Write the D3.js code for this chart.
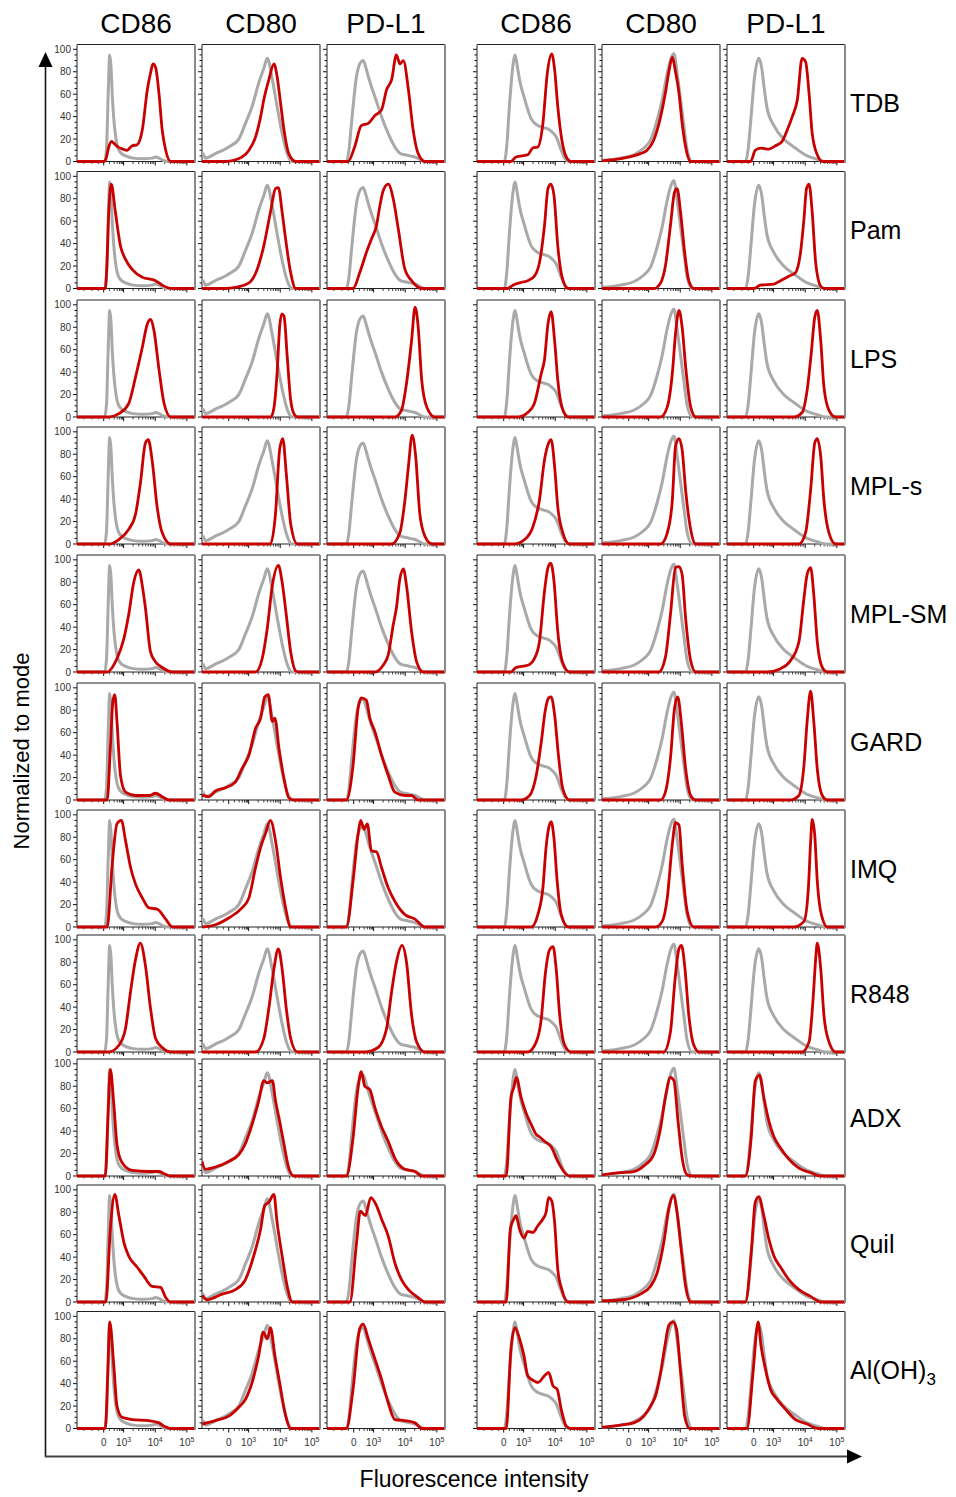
<!DOCTYPE html>
<html>
<head>
<meta charset="utf-8">
<script src="https://cdn.jsdelivr.net/npm/d3@7"></script>
<style>
body{margin:0;background:#fff;}
text{font-family:Arial,"Liberation Sans",sans-serif;}
</style>
</head>
<body>
<div id="chart"></div>
<script>
// column / row names
const markers = ["CD86", "CD80", "PD-L1", "CD86", "CD80", "PD-L1"];
const treatments = ["TDB", "Pam", "LPS", "MPL-s", "MPL-SM", "GARD", "IMQ", "R848", "ADX", "Quil", "Al(OH)3"];
const yTicks = [0, 20, 40, 60, 80, 100];
// x positions are in display decades (biex scale), 0 sits at ~2.37
const xTickPos = [2.37, 3, 4, 5];
const xTickBase = ["0", "10", "10", "10"];
const xTickExp = ["", "3", "4", "5"];
const xMinorPos = [1.74, 2.0, 2.2, 2.55, 2.7, 2.8, 2.87, 2.92, 2.95, 2.97,
  3.30, 3.48, 3.60, 3.70, 3.78, 3.85, 3.90, 3.95,
  4.30, 4.48, 4.60, 4.70, 4.78, 4.85, 4.90, 4.95];

// unstimulated controls (grey), one per column: [position, % of mode]
const ctrl = [
  [[2.40,0],[2.46,12],[2.51,58],[2.56,95],[2.60,85],[2.64,60],[2.69,38],[2.74,24],[2.80,14],[2.90,8],[3.06,5],[3.3,3],[3.6,2.5],[3.9,3],[4.01,4],[4.12,3],[4.25,1],[4.40,0]],
  [[1.526,4],[1.56,7],[1.63,3],[1.95,7],[2.37,13],[2.69,20],[2.90,34],[3.11,49],[3.32,70],[3.48,83],[3.59,92],[3.75,73],[3.90,49],[4.06,25],[4.22,7],[4.38,0]],
  [[2.14,0],[2.22,10],[2.30,34],[2.46,76],[2.58,88],[2.67,90],[2.75,84],[2.83,76],[2.94,66],[3.04,58],[3.25,40],[3.46,25],[3.67,13],[3.85,7],[3.99,6],[4.15,5],[4.31,4],[4.45,2],[4.62,0]],
  [[2.39,0],[2.47,15],[2.55,49],[2.66,85],[2.73,95],[2.80,85],[2.87,73],[3.03,56],[3.24,38],[3.45,32],[3.66,30],[3.78,29],[3.87,27],[4.03,22],[4.19,10],[4.30,3],[4.45,0]],
  [[1.526,1],[2.11,3],[2.53,6],[2.85,12],[3.06,19],[3.27,37],[3.43,55],[3.59,79],[3.71,92],[3.80,96],[3.90,79],[4.01,55],[4.12,31],[4.22,10],[4.38,0]],
  [[2.11,0],[2.20,12],[2.27,34],[2.40,76],[2.53,92],[2.62,84],[2.70,66],[2.79,48],[3.01,32],[3.32,20],[3.64,13],[4.06,5],[4.38,2],[4.65,0]]
];

// stimulated (red), one array per treatment, six columns each
const tdb = [
  [[2.38,0],[2.45,3],[2.53,13],[2.62,18],[2.70,16],[2.82,13],[2.98,11],[3.11,10],[3.27,14],[3.43,15],[3.59,28],[3.75,64],[3.86,80],[3.93,87],[4.01,84],[4.12,60],[4.22,28],[4.33,10],[4.49,0]],
  [[2.27,0],[2.79,4],[3.01,10],[3.22,22],[3.38,40],[3.48,55],[3.64,73],[3.80,87],[3.90,76],[4.01,52],[4.12,28],[4.27,7],[4.49,0]],
  [[2.19,0],[2.40,13],[2.61,32],[2.83,34],[3.04,41],[3.25,46],[3.41,64],[3.57,73],[3.72,95],[3.83,87],[3.94,90],[4.10,64],[4.25,28],[4.41,7],[4.62,0]],
  [[2.60,0],[2.76,4],[3.13,6],[3.29,12],[3.45,13],[3.61,34],[3.75,79],[3.89,96],[3.98,82],[4.08,49],[4.21,19],[4.35,4],[4.50,0]],
  [[1.526,0.5],[2.21,3],[2.74,7],[2.95,10],[3.16,19],[3.38,40],[3.53,61],[3.64,80],[3.75,93],[3.85,80],[3.96,61],[4.06,34],[4.17,13],[4.33,0]],
  [[2.27,0],[2.42,10],[2.58,12],[2.85,11],[3.06,14],[3.27,18],[3.43,28],[3.59,40],[3.75,55],[3.90,92],[4.01,89],[4.12,61],[4.22,25],[4.38,6],[4.55,0]]
];
const pam = [
  [[2.42,0],[2.47,20],[2.53,68],[2.61,93],[2.74,68],[2.90,38],[3.06,26],[3.27,17],[3.59,10],[4.01,7],[4.22,3],[4.54,0]],
  [[2.30,0],[2.58,1],[3.01,5],[3.27,17],[3.48,38],[3.69,68],[3.85,89],[3.94,90],[4.06,68],[4.17,44],[4.33,14],[4.49,0]],
  [[2.35,0],[2.56,14],[2.77,32],[2.93,44],[3.09,56],[3.20,74],[3.30,87],[3.46,93],[3.62,80],[3.78,53],[3.99,17],[4.20,7],[4.52,0]],
  [[2.50,0],[2.66,3],[2.87,5],[3.13,7],[3.34,11],[3.50,23],[3.66,56],[3.77,89],[3.86,93],[3.96,83],[4.08,38],[4.21,11],[4.40,0]],
  [[3.16,0],[3.38,5],[3.53,20],[3.69,56],[3.82,86],[3.90,89],[4.01,68],[4.14,32],[4.27,7],[4.43,0]],
  [[2.37,0],[2.58,3],[3.01,4],[3.22,7],[3.48,11],[3.69,14],[3.85,32],[3.96,62],[4.04,89],[4.12,93],[4.22,68],[4.33,23],[4.49,2],[4.60,0]]
];
const lps = [
  [[2.53,0],[2.85,3],[3.16,12],[3.38,36],[3.59,62],[3.75,83],[3.86,87],[3.96,77],[4.12,42],[4.28,12],[4.49,0]],
  [[3.70,0],[3.80,8],[3.90,39],[3.98,80],[4.05,92],[4.12,90],[4.22,54],[4.33,15],[4.45,2],[4.55,0]],
  [[3.67,0],[3.88,6],[4.04,30],[4.20,68],[4.31,98],[4.41,80],[4.52,33],[4.68,9],[4.94,0]],
  [[2.82,0],[3.13,4],[3.34,12],[3.56,39],[3.66,51],[3.77,83],[3.87,94],[3.98,68],[4.08,33],[4.21,9],[4.40,0]],
  [[3.38,0],[3.59,9],[3.75,39],[3.85,74],[3.96,95],[4.06,80],[4.17,45],[4.33,9],[4.49,0]],
  [[3.64,0],[3.90,4],[4.06,24],[4.19,57],[4.30,89],[4.38,95],[4.49,68],[4.59,27],[4.75,6],[4.96,0]]
];
const mplS = [
  [[2.53,0],[2.85,4],[3.16,13],[3.38,27],[3.53,54],[3.69,90],[3.78,93],[3.90,75],[4.06,33],[4.22,10],[4.49,0]],
  [[3.69,0],[3.85,27],[3.98,84],[4.08,94],[4.19,63],[4.33,18],[4.54,0]],
  [[3.57,0],[3.83,10],[3.99,39],[4.10,69],[4.22,97],[4.33,78],[4.46,27],[4.62,7],[4.85,0]],
  [[2.71,0],[3.03,4],[3.29,15],[3.50,39],[3.66,75],[3.79,90],[3.87,93],[3.98,69],[4.08,33],[4.24,10],[4.45,0]],
  [[3.38,0],[3.59,10],[3.75,39],[3.85,87],[3.96,94],[4.06,84],[4.17,48],[4.33,13],[4.49,0]],
  [[3.80,0],[4.01,10],[4.17,48],[4.30,90],[4.38,94],[4.49,78],[4.59,39],[4.75,10],[4.96,0]]
];
const mplSM = [
  [[2.48,0],[2.64,4],[2.79,12],[3.01,30],[3.16,51],[3.32,80],[3.48,91],[3.59,77],[3.69,57],[3.85,18],[4.01,9],[4.22,4],[4.54,0]],
  [[3.22,0],[3.43,12],[3.59,39],[3.75,77],[3.94,95],[4.06,80],[4.19,51],[4.33,18],[4.49,1],[4.60,0]],
  [[3.04,0],[3.30,6],[3.46,15],[3.62,42],[3.72,57],[3.83,83],[3.94,92],[4.04,77],[4.20,36],[4.36,9],[4.57,0]],
  [[2.60,0],[2.76,4],[3.13,6],[3.34,12],[3.50,27],[3.66,72],[3.77,93],[3.86,97],[3.96,81],[4.08,36],[4.24,8],[4.45,0]],
  [[3.32,0],[3.53,13],[3.69,51],[3.85,93],[3.96,94],[4.06,87],[4.17,48],[4.33,10],[4.49,0]],
  [[2.79,0],[3.22,3],[3.53,10],[3.80,27],[3.96,66],[4.06,87],[4.17,93],[4.27,69],[4.38,27],[4.54,4],[4.70,0]]
];
const gard = [
  [[2.48,0],[2.58,46],[2.66,88],[2.72,94],[2.79,70],[2.90,22],[3.06,7],[3.38,4],[3.80,4],[4.01,6],[4.22,3],[4.43,0]],
  [[1.526,4],[1.56,4],[1.74,3],[1.95,8],[2.27,11],[2.58,16],[2.79,28],[3.01,40],[3.22,64],[3.38,73],[3.51,92],[3.62,94],[3.75,70],[3.83,73],[3.96,46],[4.12,19],[4.27,2],[4.43,0]],
  [[2.14,0],[2.35,31],[2.51,82],[2.61,91],[2.77,89],[2.88,73],[3.04,61],[3.25,40],[3.46,22],[3.67,7],[3.99,4],[4.20,4],[4.40,0]],
  [[2.92,0],[3.19,4],[3.40,22],[3.56,52],[3.68,79],[3.79,91],[3.87,92],[3.98,76],[4.10,40],[4.24,10],[4.45,0]],
  [[3.38,0],[3.53,7],[3.69,37],[3.82,82],[3.92,92],[4.03,70],[4.17,28],[4.33,4],[4.49,0]],
  [[3.53,0],[3.80,4],[3.96,31],[4.06,70],[4.17,97],[4.27,70],[4.38,28],[4.54,4],[4.70,0]]
];
const imq = [
  [[2.48,0],[2.64,56],[2.79,92],[2.93,95],[3.06,77],[3.22,53],[3.38,38],[3.59,26],[3.80,17],[4.06,16],[4.33,7],[4.54,0]],
  [[1.526,0],[1.95,2],[2.37,8],[2.79,17],[3.01,26],[3.22,53],[3.38,71],[3.53,83],[3.69,95],[3.85,77],[4.01,44],[4.17,17],[4.33,0]],
  [[2.14,0],[2.35,41],[2.51,83],[2.59,95],[2.70,87],[2.80,92],[2.93,68],[3.09,67],[3.25,53],[3.46,35],[3.67,23],[3.99,11],[4.31,7],[4.62,0]],
  [[3.24,0],[3.45,11],[3.61,35],[3.71,71],[3.79,88],[3.87,94],[3.96,79],[4.06,41],[4.19,11],[4.40,0]],
  [[3.22,0],[3.43,5],[3.59,26],[3.75,74],[3.85,93],[3.96,91],[4.06,56],[4.22,14],[4.43,0]],
  [[3.64,0],[3.96,5],[4.10,35],[4.17,76],[4.22,96],[4.30,82],[4.38,41],[4.51,11],[4.70,0]]
];
const r848 = [
  [[2.53,0],[2.85,6],[3.06,21],[3.22,54],[3.38,83],[3.53,97],[3.69,77],[3.85,39],[4.01,12],[4.22,4],[4.49,0]],
  [[3.22,0],[3.48,12],[3.64,39],[3.80,74],[3.94,92],[4.06,74],[4.19,39],[4.33,12],[4.54,0]],
  [[2.72,0],[3.14,4],[3.41,21],[3.57,54],[3.72,80],[3.90,95],[4.04,80],[4.20,33],[4.36,9],[4.62,0]],
  [[3.13,0],[3.40,9],[3.56,30],[3.68,68],[3.82,91],[3.93,94],[4.03,74],[4.14,33],[4.30,6],[4.50,0]],
  [[3.48,0],[3.69,18],[3.83,63],[3.96,92],[4.04,95],[4.15,74],[4.27,33],[4.43,6],[4.60,0]],
  [[3.90,0],[4.12,9],[4.25,48],[4.33,83],[4.38,97],[4.49,74],[4.59,33],[4.75,9],[4.96,0]]
];
const adx = [
  [[2.42,0],[2.50,49],[2.58,95],[2.69,64],[2.79,28],[2.95,12],[3.27,5],[3.80,4],[4.12,4],[4.28,2],[4.49,0]],
  [[1.526,13],[1.63,6],[1.95,8],[2.37,13],[2.69,19],[2.90,29],[3.11,46],[3.32,67],[3.48,85],[3.59,83],[3.75,85],[3.85,67],[3.98,49],[4.12,28],[4.27,7],[4.43,0]],
  [[2.14,0],[2.35,34],[2.51,79],[2.61,93],[2.72,80],[2.88,77],[3.04,61],[3.25,44],[3.46,31],[3.67,16],[3.99,6],[4.31,4],[4.52,0]],
  [[2.45,0],[2.60,70],[2.69,79],[2.77,88],[2.92,70],[3.08,56],[3.24,46],[3.40,37],[3.50,35],[3.66,31],[3.87,26],[4.08,13],[4.30,3],[4.45,0]],
  [[1.526,1],[2.11,3],[2.53,4],[2.85,9],[3.16,19],[3.38,43],[3.53,70],[3.69,88],[3.80,85],[3.93,49],[4.06,16],[4.22,1],[4.38,0]],
  [[2.11,0],[2.29,34],[2.42,85],[2.55,90],[2.69,70],[2.85,49],[3.01,35],[3.22,25],[3.48,15],[3.80,7],[4.17,3],[4.49,0]]
];
const quil = [
  [[2.44,0],[2.58,65],[2.72,96],[2.85,77],[3.01,53],[3.16,41],[3.43,31],[3.64,23],[3.90,14],[4.17,13],[4.33,4],[4.49,0]],
  [[1.526,6],[1.68,2],[2.16,7],[2.58,11],[2.90,20],[3.16,41],[3.38,65],[3.51,86],[3.64,89],[3.80,96],[3.90,71],[4.06,41],[4.22,14],[4.38,0]],
  [[2.25,0],[2.46,53],[2.58,81],[2.74,77],[2.91,93],[3.09,86],[3.25,74],[3.46,59],[3.67,35],[3.88,20],[4.10,11],[4.41,4],[4.62,0]],
  [[2.45,0],[2.58,65],[2.69,74],[2.76,77],[2.87,65],[3.01,57],[3.13,63],[3.29,62],[3.45,68],[3.61,74],[3.71,80],[3.79,93],[3.89,90],[3.98,71],[4.08,29],[4.21,11],[4.40,0]],
  [[1.526,1],[2.21,2],[2.74,7],[3.06,14],[3.27,26],[3.48,53],[3.64,83],[3.78,95],[3.90,80],[4.03,47],[4.17,14],[4.33,0]],
  [[2.11,0],[2.30,47],[2.42,89],[2.53,94],[2.69,77],[2.85,56],[3.01,41],[3.22,31],[3.48,20],[3.80,11],[4.17,5],[4.49,0]]
];
const alum = [
  [[2.42,0],[2.50,50],[2.56,95],[2.69,56],[2.79,20],[2.95,10],[3.27,8],[3.80,7],[4.12,5],[4.28,2],[4.49,0]],
  [[1.526,4],[1.95,7],[2.37,11],[2.69,19],[2.90,26],[3.11,41],[3.32,65],[3.46,86],[3.59,80],[3.69,90],[3.83,65],[3.98,41],[4.15,14],[4.33,0]],
  [[2.14,0],[2.35,35],[2.56,89],[2.67,93],[2.83,80],[3.04,62],[3.25,44],[3.46,23],[3.67,8],[3.99,7],[4.31,5],[4.52,0]],
  [[2.45,0],[2.60,71],[2.73,90],[2.87,80],[3.01,65],[3.13,47],[3.29,43],[3.45,41],[3.66,47],[3.79,50],[3.93,38],[4.06,35],[4.19,17],[4.35,2],[4.50,0]],
  [[1.526,1],[2.11,3],[2.53,5],[2.85,11],[3.06,20],[3.22,29],[3.38,50],[3.50,71],[3.64,92],[3.77,95],[3.88,89],[4.01,50],[4.14,11],[4.30,0]],
  [[2.16,0],[2.35,50],[2.51,95],[2.60,74],[2.74,53],[2.90,35],[3.11,26],[3.38,17],[3.69,8],[4.06,4],[4.40,0]]
];
const stim = [tdb, pam, lps, mplS, mplSM, gard, imq, r848, adx, quil, alum];

// layout
const W = 956, H = 1497;
const colX = [77, 202, 327, 477, 602, 727];
const rowY = [44.5, 171.5, 300, 427, 555, 683, 810, 935, 1059, 1185, 1311.5];
const pw = 118, ph = 117;
const red = "#c80000", grey = "#a9a9a9";

const svg = d3.select("#chart").append("svg")
  .attr("width", W).attr("height", H);

const x = d3.scaleLinear().domain([1.526, 5.257]).range([0, pw]);
const y = d3.scaleLinear().domain([0, 104.3]).range([ph, 0]);

const line = d3.line()
  .x(d => x(d[0]))
  .y(d => y(d[1]))
  .curve(d3.curveMonotoneX);

// pad curve with flat baseline to the panel edges
function full(pts) {
  const p = pts.slice();
  const dom = x.domain();
  if (p[0][1] === 0 && p[0][0] > dom[0]) p.unshift([dom[0], 0]);
  if (p[p.length-1][1] === 0) p.push([dom[1], 0]);
  return p;
}

svg.append("defs").append("clipPath").attr("id", "clip")
  .append("rect").attr("x", 0).attr("y", -1).attr("width", pw).attr("height", ph + 3);

// column headers
svg.selectAll(".colHead")
  .data(markers)
  .enter()
  .append("text")
  .attr("x", (d, i) => colX[i] + pw/2)
  .attr("y", 33)
  .attr("text-anchor", "middle")
  .style("font-size", "28px")
  .text(d => d);

treatments.forEach(function(t, r) {
  const top = rowY[r];
  for (let c = 0; c < 6; c++) {
    const g = svg.append("g").attr("transform", "translate(" + colX[c] + "," + top + ")");
    g.append("rect").attr("width", pw).attr("height", ph).attr("fill", "#fff");

    // y ticks
    const yMinor = d3.range(0, 101, 5);
    g.selectAll(".ym").data(yMinor).enter().append("line")
      .attr("x1", d => d % 20 === 0 ? -4 : -2.5).attr("x2", 0)
      .attr("y1", d => y(d)).attr("y2", d => y(d))
      .attr("stroke", "#111").attr("stroke-width", 1);
    if (c === 0) {
      g.selectAll(".yl").data(yTicks).enter().append("text")
        .attr("x", -6).attr("y", d => y(d) + 3.5)
        .attr("text-anchor", "end")
        .style("font-size", "10px").style("fill", "#333")
        .text(d => d);
    }

    // x ticks
    g.selectAll(".xm").data(xMinorPos).enter().append("line")
      .attr("x1", d => x(d)).attr("x2", d => x(d))
      .attr("y1", ph).attr("y2", ph + 2.5)
      .attr("stroke", "#111").attr("stroke-width", 0.8);
    g.selectAll(".xM").data(xTickPos).enter().append("line")
      .attr("x1", d => x(d)).attr("x2", d => x(d))
      .attr("y1", ph).attr("y2", ph + 4)
      .attr("stroke", "#111").attr("stroke-width", 1);
    if (r === treatments.length - 1) {
      const lab = g.selectAll(".xl").data(xTickPos).enter().append("text")
        .attr("x", d => x(d)).attr("y", ph + 17)
        .attr("text-anchor", "middle")
        .style("font-size", "10px").style("fill", "#333");
      lab.append("tspan").text((d, i) => xTickBase[i]);
      lab.append("tspan").attr("dy", -4).style("font-size", "7px").text((d, i) => xTickExp[i]);
    }

    // borders (bottom + left + top black, right grey)
    g.append("line").attr("x1", 0).attr("x2", pw).attr("y1", 0).attr("y2", 0).attr("stroke", "#222").attr("stroke-width", 1);
    g.append("line").attr("x1", 0).attr("x2", 0).attr("y1", 0).attr("y2", ph).attr("stroke", "#222").attr("stroke-width", 1);
    g.append("line").attr("x1", 0).attr("x2", pw).attr("y1", ph).attr("y2", ph).attr("stroke", "#222").attr("stroke-width", 1);

    const curves = g.append("g").attr("clip-path", "url(#clip)");
    curves.append("path")
      .attr("d", line(full(ctrl[c])))
      .attr("fill", "none").attr("stroke", grey).attr("stroke-width", 3)
      .attr("stroke-linejoin", "round");
    curves.append("path")
      .attr("d", line(full(stim[r][c])))
      .attr("fill", "none").attr("stroke", red).attr("stroke-width", 2.8)
      .attr("stroke-linejoin", "round");

    g.append("line").attr("x1", pw).attr("x2", pw).attr("y1", 0).attr("y2", ph + 1).attr("stroke", "#8a8a8a").attr("stroke-width", 2);
  }

  // row label
  const lbl = svg.append("text")
    .attr("x", 850).attr("y", top + ph/2 + 9)
    .style("font-size", "25px");
  if (t === "Al(OH)3") {
    lbl.append("tspan").text("Al(OH)");
    lbl.append("tspan").attr("dy", 6).style("font-size", "17px").text("3");
  } else {
    lbl.text(t);
  }
});

// axis arrows
svg.append("line").attr("x1", 45.5).attr("x2", 45.5).attr("y1", 64).attr("y2", 1457)
  .attr("stroke", "#111").attr("stroke-width", 1.6);
svg.append("path").attr("d", "M45.5,52 L38.5,67 L52.5,67 Z").attr("fill", "#000");
svg.append("line").attr("x1", 45).attr("x2", 850).attr("y1", 1456.5).attr("y2", 1456.5)
  .attr("stroke", "#444").attr("stroke-width", 2);
svg.append("path").attr("d", "M862,1456.5 L847,1449.5 L847,1463.5 Z").attr("fill", "#000");

svg.append("text")
  .attr("transform", "translate(29,751) rotate(-90)")
  .attr("text-anchor", "middle")
  .style("font-size", "22px")
  .text("Normalized to mode");
svg.append("text")
  .attr("x", 474).attr("y", 1487)
  .attr("text-anchor", "middle")
  .style("font-size", "23px")
  .text("Fluorescence intensity");
</script>
</body>
</html>
